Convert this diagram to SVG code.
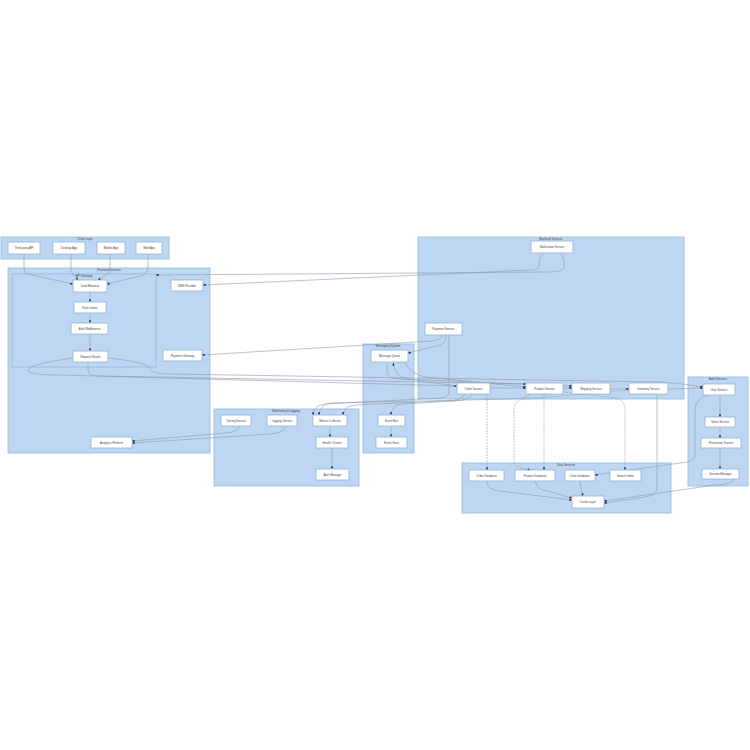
<svg xmlns="http://www.w3.org/2000/svg" width="750" height="750" viewBox="0 0 750 750">
<style>
.cl{fill:#bdd7f3;stroke:#93b6df;stroke-width:0.8}
.ct{font-family:"Liberation Sans",Arial,sans-serif;font-size:2.9px;fill:#444;text-anchor:middle}
.nd rect{fill:#fff;stroke:#94b2d8;stroke-width:0.8}
.nd text{font-family:"Liberation Sans",Arial,sans-serif;font-size:2.9px;fill:#444;text-anchor:middle;dominant-baseline:central}
.e{fill:none;stroke:#8f9aa8;stroke-width:0.6;marker-end:url(#a)}
.d{stroke-dasharray:2 1}
</style>
<defs>
<marker id="a" markerUnits="userSpaceOnUse" markerWidth="2.6" markerHeight="2.6" refX="2.6" refY="1.3" orient="auto"><path d="M0,0L2.6,1.3L0,2.6z" fill="#222"/></marker>
</defs>
<g id="clusters">
<rect class="cl" x="1" y="237" width="168" height="22"/><text class="ct" x="85" y="240.3">Client Layer</text>
<rect class="cl" x="8" y="268" width="202" height="185"/><text class="ct" x="109" y="271.3">Frontend Services</text>
<rect class="cl" x="12" y="274" width="144" height="93"/><text class="ct" x="84" y="277.3">API Gateway</text>
<rect class="cl" x="418" y="237" width="266" height="162"/><text class="ct" x="551" y="240.3">Backend Services</text>
<rect class="cl" x="363" y="344" width="51" height="109"/><text class="ct" x="388" y="347.3">Messaging System</text>
<rect class="cl" x="214" y="409" width="145" height="77"/><text class="ct" x="286" y="412.3">Monitoring &amp; Logging</text>
<rect class="cl" x="462" y="463" width="209" height="50"/><text class="ct" x="566" y="466.3">Data Services</text>
<rect class="cl" x="688" y="377" width="60" height="109"/><text class="ct" x="718" y="380.3">Auth Services</text>
</g>
<g id="connectors">
<path class="e" d="M24,254 L24,268 Q24,274 32,275 L73,284"/>
<path class="e" d="M71,254 L71,270 Q71,274 75,276 L78,280"/>
<path class="e" d="M110,254 L110,270 Q110,274 104,276 L98,280"/>
<path class="e" d="M148,254 L148,267 Q148,274 140,276 L107,284"/>
<path class="e" d="M90,292 L90,302"/>
<path class="e" d="M90,313 L90,323"/>
<path class="e" d="M90,334 L90,351"/>
<path class="e" d="M543,253 Q538,259 539,266 Q539,270 530,270 L203,285"/>
<path class="e" d="M561,253 Q565,259 564,267 Q563,272 550,272 L156,275"/>
<path class="e" d="M442,335 Q442,340 432,341 L202,355"/>
<path class="e" d="M446,335 Q446,345 436,346 L408,353"/>
<path class="e" d="M73,358 Q30,364 28,370 Q28,375 60,375 L457,386"/>
<path class="e" d="M88,362 L88,370 Q88,376 100,376 L526,384"/>
<path class="e" d="M108,358 Q148,362 150,369 Q152,374 170,374 L660,382 Q680,383 703,387"/>
<path class="e" d="M457,386 Q420,381 402,378 Q396,374 393,363"/>
<path class="e" d="M387,362 L387,372 Q387,379 400,379 L572,386"/>
<path class="e" d="M405,362 Q410,374 425,377 L526,387"/>
<path class="e" d="M490,388 L526,388"/>
<path class="e" d="M563,388 L572,388"/>
<path class="e" d="M610,389 L629,389"/>
<path class="e" d="M668,389 L703,388"/>
<path class="e" d="M449,335 L449,392 Q449,398 440,398 L325,404 Q314,405 313,415"/>
<path class="e" d="M465,394 Q463,401 445,401 L355,405 Q344,406 343,415"/>
<path class="e" d="M530,394 Q527,399 510,399 L332,403 Q320,404 319,415"/>
<path class="e" d="M472,394 Q470,400 455,401 L402,404 Q391,405 391,415"/>
<path class="e" d="M391,426 L391,437"/>
<path class="e" d="M330,426 L330,437"/>
<path class="e" d="M332,448 L332,469"/>
<path class="e" d="M240,426 Q238,432 225,433 L132,441"/>
<path class="e" d="M286,426 Q284,433 270,434 L132,443"/>
<path class="e d" d="M487,394 L487,470"/>
<path class="e d" d="M544,394 L544,470"/>
<path class="e d" d="M629,390 L525,399 Q514,400 514,410 L514,462 Q514,467 522,468 L530,470"/>
<path class="e d" d="M563,392 L615,398 Q625,400 625,410 L625,470"/>
<path class="e" d="M657,394 L657,488 Q657,495 645,497 L604,503"/>
<path class="e" d="M487,481 Q487,490 500,491 L572,500"/>
<path class="e" d="M535,481 Q537,490 548,491 L572,498"/>
<path class="e" d="M580,481 Q581,490 583,496"/>
<path class="e" d="M707,395 Q695,400 695,410 L695,455 Q695,462 680,463 L595,475"/>
<path class="e" d="M735,479 Q730,485 715,485 L604,501"/>
<path class="e" d="M720,395 L720,417"/>
<path class="e" d="M720,427 L720,438"/>
<path class="e" d="M720,448 L720,469"/>
</g>
<g id="n-thirdparty" class="nd"><rect x="8" y="242" width="32" height="12"/><text x="24" y="248">Third-party API</text></g>
<g id="n-desktop" class="nd"><rect x="53" y="242" width="32" height="12"/><text x="69" y="248">Desktop App</text></g>
<g id="n-mobile" class="nd"><rect x="97" y="242" width="28" height="12"/><text x="111" y="248">Mobile App</text></g>
<g id="n-web" class="nd"><rect x="136" y="242" width="26" height="12"/><text x="149" y="248">Web App</text></g>
<g id="n-lb" class="nd"><rect x="73" y="280" width="34" height="12"/><text x="90" y="286">Load Balancer</text></g>
<g id="n-sms" class="nd"><rect x="171" y="280" width="32" height="11"/><text x="187" y="285.5">SMS Provider</text></g>
<g id="n-rate" class="nd"><rect x="74" y="302" width="32" height="11"/><text x="90" y="307.5">Rate Limiter</text></g>
<g id="n-authmw" class="nd"><rect x="71" y="323" width="37" height="11"/><text x="89.5" y="328.5">Auth Middleware</text></g>
<g id="n-router" class="nd"><rect x="73" y="351" width="35" height="11"/><text x="90.5" y="356.5">Request Router</text></g>
<g id="n-paygw" class="nd"><rect x="163" y="350" width="39" height="11"/><text x="182.5" y="355.5">Payment Gateway</text></g>
<g id="n-analytics" class="nd"><rect x="91" y="437" width="41" height="11"/><text x="111.5" y="442.5">Analytics Platform</text></g>
<g id="n-notif" class="nd"><rect x="531" y="241" width="42" height="12"/><text x="552" y="247">Notification Service</text></g>
<g id="n-payment" class="nd"><rect x="425" y="323" width="37" height="12"/><text x="443.5" y="329">Payment Service</text></g>
<g id="n-order" class="nd"><rect x="457" y="383" width="33" height="11"/><text x="473.5" y="388.5">Order Service</text></g>
<g id="n-product" class="nd"><rect x="526" y="383" width="37" height="11"/><text x="544.5" y="388.5">Product Service</text></g>
<g id="n-shipping" class="nd"><rect x="572" y="383" width="38" height="11"/><text x="591" y="388.5">Shipping Service</text></g>
<g id="n-inventory" class="nd"><rect x="629" y="383" width="39" height="11"/><text x="648.5" y="388.5">Inventory Service</text></g>
<g id="n-mq" class="nd"><rect x="371" y="350" width="37" height="12"/><text x="389.5" y="356">Message Queue</text></g>
<g id="n-eventbus" class="nd"><rect x="378" y="415" width="27" height="11"/><text x="391.5" y="420.5">Event Bus</text></g>
<g id="n-eventstore" class="nd"><rect x="376" y="437" width="31" height="11"/><text x="391.5" y="442.5">Event Store</text></g>
<g id="n-tracing" class="nd"><rect x="221" y="415" width="30" height="11"/><text x="236" y="420.5">Tracing Service</text></g>
<g id="n-logging" class="nd"><rect x="267" y="415" width="30" height="11"/><text x="282" y="420.5">Logging Service</text></g>
<g id="n-metrics" class="nd"><rect x="313" y="415" width="34" height="11"/><text x="330" y="420.5">Metrics Collector</text></g>
<g id="n-health" class="nd"><rect x="316" y="437" width="32" height="11"/><text x="332" y="442.5">Health Checks</text></g>
<g id="n-alert" class="nd"><rect x="316" y="469" width="33" height="11"/><text x="332.5" y="474.5">Alert Manager</text></g>
<g id="n-orderdb" class="nd"><rect x="469" y="470" width="35" height="11"/><text x="486.5" y="475.5">Order Database</text></g>
<g id="n-productdb" class="nd"><rect x="515" y="470" width="40" height="11"/><text x="535" y="475.5">Product Database</text></g>
<g id="n-userdb" class="nd"><rect x="565" y="470" width="30" height="11"/><text x="580" y="475.5">User Database</text></g>
<g id="n-search" class="nd"><rect x="610" y="470" width="31" height="11"/><text x="625.5" y="475.5">Search Index</text></g>
<g id="n-cache" class="nd"><rect x="572" y="496" width="32" height="12"/><text x="588" y="502">Cache Layer</text></g>
<g id="n-user" class="nd"><rect x="703" y="384" width="32" height="11"/><text x="719" y="389.5">User Service</text></g>
<g id="n-token" class="nd"><rect x="705" y="417" width="30" height="10"/><text x="720" y="422">Token Service</text></g>
<g id="n-perm" class="nd"><rect x="701" y="438" width="40" height="10"/><text x="721" y="443">Permission Service</text></g>
<g id="n-session" class="nd"><rect x="702" y="469" width="37" height="10"/><text x="720.5" y="474">Session Manager</text></g>
</svg>
